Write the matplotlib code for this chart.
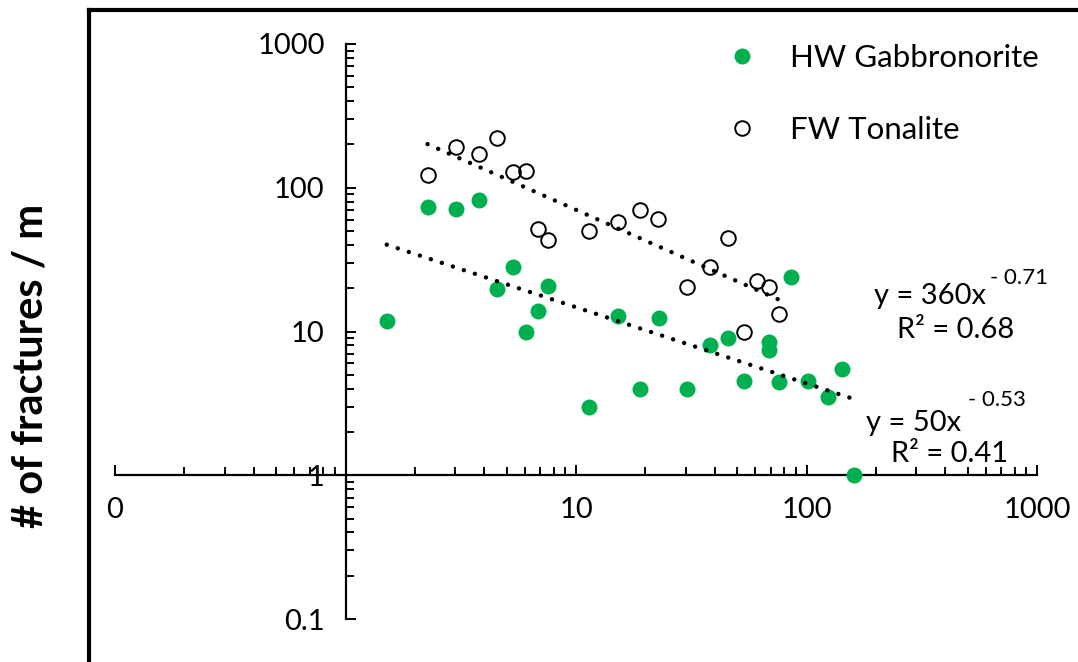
import numpy as np
import matplotlib.pyplot as plt
from matplotlib.lines import Line2D
from matplotlib.ticker import FixedLocator, NullFormatter

plt.rcParams['font.family'] = ['Lato', 'DejaVu Sans']

# HW Gabbronorite (filled green)
hw_x = [1.51, 2.27, 3.03, 3.78, 4.56, 5.31, 6.06, 6.82, 7.58, 11.4, 15.2, 19.0, 22.8,
        30.4, 38.0, 45.7, 53.4, 68.6, 68.6, 76.1, 85.5, 101.7, 123.4, 142.0, 160.6]
hw_y = [11.9, 73.0, 71.1, 82.6, 19.8, 28.0, 9.9, 13.8, 20.7, 2.98, 12.9, 4.0, 12.4,
        4.0, 8.0, 9.0, 4.52, 8.43, 7.44, 4.45, 23.8, 4.5, 3.5, 5.5, 1.0]

# FW Tonalite (open circles)
fw_x = [2.27, 3.03, 3.78, 4.53, 5.31, 6.06, 6.82, 7.58, 11.4, 15.2, 19.0, 22.7,
        30.3, 38.0, 45.7, 53.4, 61.2, 68.8, 76.3]
fw_y = [123, 193, 171, 223, 129, 130, 51.7, 43.3, 50.3, 58.1, 70.0, 60.9,
        20.3, 28.0, 44.5, 9.9, 22.4, 20.3, 13.3]

# power-law trendlines y = a * x^b
hw_a, hw_b = 50, -0.53
fw_a, fw_b = 360, -0.71

green = '#00B050'
W, H = 1078, 662


def px(x, y):
    # pixel position (from top-left) -> figure fraction
    return x / W, 1 - y / H


fig = plt.figure(figsize=(W / 100, H / 100), dpi=100)
ax = fig.add_axes([115 / W, 1 - 619 / H, 922 / W, 575 / H])
ax.set_xscale('log')
ax.set_yscale('log')
ax.set_xlim(0.1, 1000)
ax.set_ylim(0.1, 1000)

# trendlines over each data range
dots = dict(color='black', lw=3.2, linestyle=(0, (0.01, 2.6)), dash_capstyle='round', zorder=4)
tx = np.logspace(np.log10(min(hw_x)), np.log10(max(hw_x)), 200)
ax.plot(tx, hw_a * tx ** hw_b, **dots)
tx = np.logspace(np.log10(min(fw_x)), np.log10(max(fw_x)), 200)
ax.plot(tx, fw_a * tx ** fw_b, **dots)

ax.plot(hw_x, hw_y, 'o', color=green, markersize=11.5, markeredgewidth=0,
        linestyle='none', zorder=3, clip_on=False, label='HW Gabbronorite')
ax.plot(fw_x, fw_y, 'o', markerfacecolor='none', markeredgecolor='black', markersize=10.5,
        markeredgewidth=1.4, linestyle='none', zorder=3, label='FW Tonalite')

# spines crossing at (1, 1)
for s in ['top', 'right']:
    ax.spines[s].set_visible(False)
ax.spines['left'].set_position(('data', 1))
ax.spines['bottom'].set_position(('data', 1))
for s in ['left', 'bottom']:
    ax.spines[s].set_linewidth(1.6)
    ax.spines[s].set_zorder(2)

ticks = [0.1, 1, 10, 100, 1000]
minors = [m * 10.0 ** e for e in range(-1, 3) for m in range(2, 10)]
ax.xaxis.set_major_locator(FixedLocator(ticks))
ax.yaxis.set_major_locator(FixedLocator(ticks))
ax.xaxis.set_minor_locator(FixedLocator(minors))
ax.yaxis.set_minor_locator(FixedLocator(minors))
ax.xaxis.set_minor_formatter(NullFormatter())
ax.yaxis.set_minor_formatter(NullFormatter())
ax.set_xticklabels(['0', '', '10', '100', '1000'])
ax.set_yticklabels(['0.1', '1', '10', '100', '1000'])
ax.tick_params(which='both', direction='in', width=1.4, labelsize=21)
ax.tick_params(which='major', length=7)
ax.tick_params(which='minor', length=6)
ax.tick_params(axis='y', pad=15)
ax.tick_params(axis='x', pad=16)

ax.legend(loc='upper left', bbox_to_anchor=px(698, 16),
          bbox_transform=fig.transFigure, frameon=False, fontsize=22.5,
          handlelength=1.0, handletextpad=1.05, labelspacing=1.4)

# equations
fig.text(*px(986, 304), 'y = 360x', ha='right', va='baseline', fontsize=21)
fig.text(*px(990, 284), '- 0.71', ha='left', va='baseline', fontsize=16)
fig.text(*px(956, 338), 'R² = 0.68', ha='center', va='baseline', fontsize=21)
fig.text(*px(961, 431), 'y = 50x', ha='right', va='baseline', fontsize=21)
fig.text(*px(968, 406), '- 0.53', ha='left', va='baseline', fontsize=16)
fig.text(*px(950, 462), 'R² = 0.41', ha='center', va='baseline', fontsize=21)

fig.text(*px(31, 366), '# of fractures / m', rotation=90, ha='center',
         va='center', fontsize=30, fontweight='bold')

# outer frame
fig.add_artist(Line2D([89 / W, 89 / W], [0, 1 - 10 / H], transform=fig.transFigure,
                      color='black', lw=3, solid_capstyle='projecting'))
fig.add_artist(Line2D([89 / W, 1], [1 - 10 / H, 1 - 10 / H], transform=fig.transFigure,
                      color='black', lw=3, solid_capstyle='projecting'))

fig.savefig('out.png', dpi=100)
